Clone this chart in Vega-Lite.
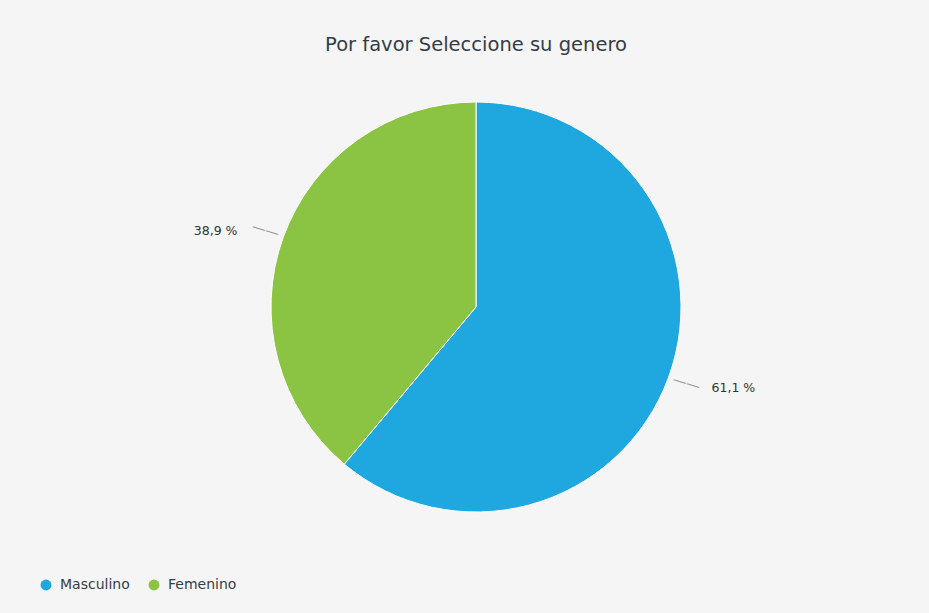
{
  "$schema": "https://vega.github.io/schema/vega-lite/v6.json",
  "autosize": "none",
  "width": 906,
  "height": 534,
  "padding": {"left": 23, "top": 40, "right": 0, "bottom": 39},
  "background": "#f5f5f5",
  "title": {
    "text": "Por favor Seleccione su genero",
    "anchor": "middle",
    "font": "DejaVu Sans",
    "fontSize": 19.5,
    "fontWeight": "normal",
    "color": "#333d47",
    "baseline": "alphabetic",
    "offset": -30
  },
  "config": {"view": {"stroke": null}},
  "data": {
    "values": [
      {"genero": "Masculino", "pct": 61.1, "label": "61,1 %"},
      {"genero": "Femenino", "pct": 38.9, "label": "38,9 %"}
    ]
  },
  "encoding": {
    "theta": {"field": "pct", "type": "quantitative", "stack": true},
    "order": {"field": "pct", "type": "quantitative", "sort": "descending"}
  },
  "layer": [
    {
      "mark": {"type": "arc", "outerRadius": 205, "stroke": "#ffffff", "strokeWidth": 1},
      "encoding": {
        "color": {
          "field": "genero",
          "type": "nominal",
          "sort": ["Masculino", "Femenino"],
          "scale": {"domain": ["Masculino", "Femenino"], "range": ["#1fa8e0", "#8bc442"]},
          "legend": {
            "title": null,
            "orient": "none",
            "direction": "horizontal",
            "legendX": 16,
            "legendY": 538,
            "symbolType": "circle",
            "symbolSize": 120,
            "symbolStrokeWidth": 0,
            "labelFont": "DejaVu Sans",
            "labelFontSize": 14,
            "labelColor": "#333d47",
            "labelOffset": 7,
            "columnPadding": 17,
            "padding": 0
          }
        }
      }
    },
    {
      "mark": {"type": "text", "radius": 224, "text": "——", "angle": 17, "fontSize": 14, "color": "#999999", "font": "DejaVu Sans"}
    },
    {
      "mark": {"type": "text", "radius": 240, "align": "left", "baseline": "middle", "dx": 10, "dy": -1, "font": "DejaVu Sans", "fontSize": 12.5, "color": "#333333"},
      "encoding": {"text": {"condition": {"test": "datum.genero === 'Masculino'", "field": "label"}, "value": ""}}
    },
    {
      "mark": {"type": "text", "radius": 240, "align": "right", "baseline": "middle", "dx": -13, "dy": 6, "font": "DejaVu Sans", "fontSize": 12.5, "color": "#333333"},
      "encoding": {"text": {"condition": {"test": "datum.genero === 'Femenino'", "field": "label"}, "value": ""}}
    }
  ]
}
